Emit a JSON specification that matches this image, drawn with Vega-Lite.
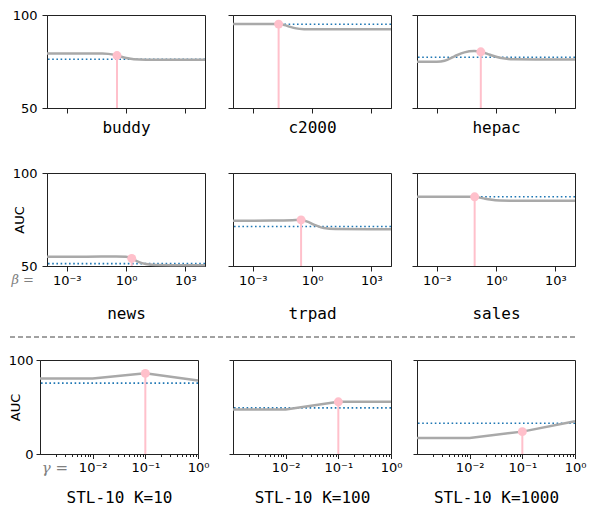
{
  "$schema": "https://vega.github.io/schema/vega-lite/v6.json",
  "padding": {"left": 7, "top": 8, "right": 4, "bottom": 0},
  "background": "white",
  "bounds": "full",
  "spacing": 14,
  "datasets": {
    "curves": [
      {"p": "buddy", "x": 0.0001, "auc": 79.3}, {"p": "buddy", "x": 0.001, "auc": 79.3}, {"p": "buddy", "x": 0.01, "auc": 79.3}, {"p": "buddy", "x": 0.063, "auc": 79.3}, {"p": "buddy", "x": 0.126, "auc": 79.1}, {"p": "buddy", "x": 0.35, "auc": 78.2}, {"p": "buddy", "x": 1, "auc": 76.9}, {"p": "buddy", "x": 2.5, "auc": 76.2}, {"p": "buddy", "x": 10, "auc": 76.0}, {"p": "buddy", "x": 100, "auc": 76.0}, {"p": "buddy", "x": 1000, "auc": 76.0}, {"p": "buddy", "x": 10000, "auc": 76.0},
      {"p": "c2000", "x": 0.0001, "auc": 95.2}, {"p": "c2000", "x": 0.001, "auc": 95.2}, {"p": "c2000", "x": 0.01, "auc": 95.15}, {"p": "c2000", "x": 0.0204, "auc": 95.1}, {"p": "c2000", "x": 0.04, "auc": 94.6}, {"p": "c2000", "x": 0.079, "auc": 93.6}, {"p": "c2000", "x": 0.158, "auc": 92.8}, {"p": "c2000", "x": 0.4, "auc": 92.4}, {"p": "c2000", "x": 1, "auc": 92.3}, {"p": "c2000", "x": 10, "auc": 92.3}, {"p": "c2000", "x": 1000, "auc": 92.3}, {"p": "c2000", "x": 10000, "auc": 92.3},
      {"p": "hepac", "x": 0.0001, "auc": 74.8}, {"p": "hepac", "x": 0.001, "auc": 74.9}, {"p": "hepac", "x": 0.0025, "auc": 75.4}, {"p": "hepac", "x": 0.0079, "auc": 77.8}, {"p": "hepac", "x": 0.025, "auc": 79.9}, {"p": "hepac", "x": 0.079, "auc": 80.6}, {"p": "hepac", "x": 0.17, "auc": 80.2}, {"p": "hepac", "x": 0.5, "auc": 78.6}, {"p": "hepac", "x": 1.58, "auc": 77.0}, {"p": "hepac", "x": 7.9, "auc": 76.2}, {"p": "hepac", "x": 100, "auc": 76.1}, {"p": "hepac", "x": 10000, "auc": 76.1},
      {"p": "news", "x": 0.0001, "auc": 55.0}, {"p": "news", "x": 0.01, "auc": 55.0}, {"p": "news", "x": 0.316, "auc": 55.1}, {"p": "news", "x": 1, "auc": 55.0}, {"p": "news", "x": 1.95, "auc": 54.1}, {"p": "news", "x": 4, "auc": 52.4}, {"p": "news", "x": 10, "auc": 51.1}, {"p": "news", "x": 31.6, "auc": 50.6}, {"p": "news", "x": 1000, "auc": 50.4}, {"p": "news", "x": 10000, "auc": 50.4},
      {"p": "trpad", "x": 0.0001, "auc": 74.3}, {"p": "trpad", "x": 0.01, "auc": 74.4}, {"p": "trpad", "x": 0.1, "auc": 74.6}, {"p": "trpad", "x": 0.28, "auc": 74.8}, {"p": "trpad", "x": 0.63, "auc": 73.7}, {"p": "trpad", "x": 1.58, "auc": 71.8}, {"p": "trpad", "x": 4, "auc": 70.4}, {"p": "trpad", "x": 15.8, "auc": 69.9}, {"p": "trpad", "x": 1000, "auc": 69.8}, {"p": "trpad", "x": 10000, "auc": 69.8},
      {"p": "sales", "x": 0.0001, "auc": 87.2}, {"p": "sales", "x": 0.01, "auc": 87.2}, {"p": "sales", "x": 0.083, "auc": 87.2}, {"p": "sales", "x": 0.2, "auc": 86.5}, {"p": "sales", "x": 0.5, "auc": 85.7}, {"p": "sales", "x": 1.58, "auc": 85.2}, {"p": "sales", "x": 10, "auc": 85.1}, {"p": "sales", "x": 10000, "auc": 85.1},
      {"p": "K10", "x": 0.001, "auc": 80.4}, {"p": "K10", "x": 0.01, "auc": 80.4}, {"p": "K10", "x": 0.1, "auc": 85.8}, {"p": "K10", "x": 1, "auc": 78.3},
      {"p": "K100", "x": 0.001, "auc": 47.3}, {"p": "K100", "x": 0.01, "auc": 47.3}, {"p": "K100", "x": 0.1, "auc": 55.5}, {"p": "K100", "x": 1, "auc": 55.5},
      {"p": "K1000", "x": 0.001, "auc": 17.1}, {"p": "K1000", "x": 0.01, "auc": 17.1}, {"p": "K1000", "x": 0.1, "auc": 23.8}, {"p": "K1000", "x": 1, "auc": 34.9}
    ],
    "best": [
      {"p": "buddy", "x": 0.35, "auc": 78.2}, {"p": "c2000", "x": 0.0204, "auc": 95.1}, {"p": "hepac", "x": 0.17, "auc": 80.2},
      {"p": "news", "x": 1.95, "auc": 54.1}, {"p": "trpad", "x": 0.28, "auc": 74.8}, {"p": "sales", "x": 0.083, "auc": 87.2},
      {"p": "K10", "x": 0.1, "auc": 85.8}, {"p": "K100", "x": 0.1, "auc": 55.5}, {"p": "K1000", "x": 0.1, "auc": 23.8}
    ],
    "base": [
      {"p": "buddy", "auc": 76.2}, {"p": "c2000", "auc": 95.0}, {"p": "hepac", "auc": 77.3},
      {"p": "news", "auc": 51.3}, {"p": "trpad", "auc": 71.2}, {"p": "sales", "auc": 87.2},
      {"p": "K10", "auc": 75.4}, {"p": "K100", "auc": 49.1}, {"p": "K1000", "auc": 32.7}
    ],
    "prefix": [
      {"p": "news", "x": 0.000022, "t": "β ="},
      {"p": "K10", "x": 0.0034, "t": "γ ="}
    ]
  },
  "vconcat": [
    {
      "bounds": "flush",
      "spacing": 0,
      "hconcat": [
        {"width": 38, "height": 1, "view": {"stroke": null}, "data": {"values": [{}]}, "mark": {"type": "point", "opacity": 0}, "encoding": {}},
        {
          "bounds": "full",
          "spacing": 30,
          "vconcat": [
            {
              "bounds": "flush",
              "spacing": 28,
              "hconcat": [
                {"width": 158, "height": 93, "layer": [
                  {"data": {"name": "base"}, "transform": [{"filter": "datum.p == 'buddy'"}], "mark": {"type": "rule", "color": "#1f77b4", "strokeWidth": 1.6, "strokeDash": [1.6, 2.6]}, "encoding": {"y": {"field": "auc", "type": "quantitative", "scale": {"domain": [50, 100]}}}},
                  {"data": {"name": "curves"}, "transform": [{"filter": "datum.p == 'buddy'"}], "mark": {"type": "line", "color": "#a9a9a9", "strokeWidth": 2.5, "interpolate": "monotone"}, "encoding": {
                    "x": {"field": "x", "type": "quantitative", "scale": {"type": "log", "domain": [0.0001, 10000]}, "axis": {"values": [0.001, 1, 1000], "labels": false, "title": "buddy", "titlePadding": 6}},
                    "y": {"field": "auc", "type": "quantitative", "scale": {"domain": [50, 100]}, "axis": {"values": [50, 100], "title": null}}}},
                  {"data": {"name": "best"}, "transform": [{"filter": "datum.p == 'buddy'"}], "mark": {"type": "rule", "color": "#ffc0cb", "strokeWidth": 2}, "encoding": {"x": {"field": "x", "type": "quantitative", "scale": {"type": "log", "domain": [0.0001, 10000]}}, "y": {"field": "auc", "type": "quantitative", "scale": {"domain": [50, 100]}}, "y2": {"datum": 50}}},
                  {"data": {"name": "best"}, "transform": [{"filter": "datum.p == 'buddy'"}], "mark": {"type": "circle", "color": "#ffc0cb", "size": 80, "opacity": 1}, "encoding": {"x": {"field": "x", "type": "quantitative", "scale": {"type": "log", "domain": [0.0001, 10000]}}, "y": {"field": "auc", "type": "quantitative", "scale": {"domain": [50, 100]}}}}
                ]},
                {
                  "bounds": "flush",
                  "spacing": 26,
                  "hconcat": [
                    {"width": 158, "height": 93, "layer": [
                      {"data": {"name": "base"}, "transform": [{"filter": "datum.p == 'c2000'"}], "mark": {"type": "rule", "color": "#1f77b4", "strokeWidth": 1.6, "strokeDash": [1.6, 2.6]}, "encoding": {"y": {"field": "auc", "type": "quantitative", "scale": {"domain": [50, 100]}}}},
                      {"data": {"name": "curves"}, "transform": [{"filter": "datum.p == 'c2000'"}], "mark": {"type": "line", "color": "#a9a9a9", "strokeWidth": 2.5, "interpolate": "monotone"}, "encoding": {
                        "x": {"field": "x", "type": "quantitative", "scale": {"type": "log", "domain": [0.0001, 10000]}, "axis": {"values": [0.001, 1, 1000], "labels": false, "title": "c2000", "titlePadding": 6}},
                        "y": {"field": "auc", "type": "quantitative", "scale": {"domain": [50, 100]}, "axis": {"values": [50, 100], "labels": false, "title": null}}}},
                      {"data": {"name": "best"}, "transform": [{"filter": "datum.p == 'c2000'"}], "mark": {"type": "rule", "color": "#ffc0cb", "strokeWidth": 2}, "encoding": {"x": {"field": "x", "type": "quantitative", "scale": {"type": "log", "domain": [0.0001, 10000]}}, "y": {"field": "auc", "type": "quantitative", "scale": {"domain": [50, 100]}}, "y2": {"datum": 50}}},
                      {"data": {"name": "best"}, "transform": [{"filter": "datum.p == 'c2000'"}], "mark": {"type": "circle", "color": "#ffc0cb", "size": 80, "opacity": 1}, "encoding": {"x": {"field": "x", "type": "quantitative", "scale": {"type": "log", "domain": [0.0001, 10000]}}, "y": {"field": "auc", "type": "quantitative", "scale": {"domain": [50, 100]}}}}
                    ]},
                    {"width": 158, "height": 93, "layer": [
                      {"data": {"name": "base"}, "transform": [{"filter": "datum.p == 'hepac'"}], "mark": {"type": "rule", "color": "#1f77b4", "strokeWidth": 1.6, "strokeDash": [1.6, 2.6]}, "encoding": {"y": {"field": "auc", "type": "quantitative", "scale": {"domain": [50, 100]}}}},
                      {"data": {"name": "curves"}, "transform": [{"filter": "datum.p == 'hepac'"}], "mark": {"type": "line", "color": "#a9a9a9", "strokeWidth": 2.5, "interpolate": "monotone"}, "encoding": {
                        "x": {"field": "x", "type": "quantitative", "scale": {"type": "log", "domain": [0.0001, 10000]}, "axis": {"values": [0.001, 1, 1000], "labels": false, "title": "hepac", "titlePadding": 6}},
                        "y": {"field": "auc", "type": "quantitative", "scale": {"domain": [50, 100]}, "axis": {"values": [50, 100], "labels": false, "title": null}}}},
                      {"data": {"name": "best"}, "transform": [{"filter": "datum.p == 'hepac'"}], "mark": {"type": "rule", "color": "#ffc0cb", "strokeWidth": 2}, "encoding": {"x": {"field": "x", "type": "quantitative", "scale": {"type": "log", "domain": [0.0001, 10000]}}, "y": {"field": "auc", "type": "quantitative", "scale": {"domain": [50, 100]}}, "y2": {"datum": 50}}},
                      {"data": {"name": "best"}, "transform": [{"filter": "datum.p == 'hepac'"}], "mark": {"type": "circle", "color": "#ffc0cb", "size": 80, "opacity": 1}, "encoding": {"x": {"field": "x", "type": "quantitative", "scale": {"type": "log", "domain": [0.0001, 10000]}}, "y": {"field": "auc", "type": "quantitative", "scale": {"domain": [50, 100]}}}}
                    ]}
                  ]
                }
              ]
            },
            {
              "bounds": "flush",
              "spacing": 28,
              "hconcat": [
                {"width": 158, "height": 93, "layer": [
                  {"data": {"name": "base"}, "transform": [{"filter": "datum.p == 'news'"}], "mark": {"type": "rule", "color": "#1f77b4", "strokeWidth": 1.6, "strokeDash": [1.6, 2.6]}, "encoding": {"y": {"field": "auc", "type": "quantitative", "scale": {"domain": [50, 100]}}}},
                  {"data": {"name": "curves"}, "transform": [{"filter": "datum.p == 'news'"}], "mark": {"type": "line", "color": "#a9a9a9", "strokeWidth": 2.5, "interpolate": "monotone"}, "encoding": {
                    "x": {"field": "x", "type": "quantitative", "scale": {"type": "log", "domain": [0.0001, 10000]}, "axis": {"values": [0.001, 1, 1000], "labelExpr": "datum.value < 0.01 ? '10⁻³' : datum.value < 10 ? '10⁰' : '10³'", "title": "news", "titlePadding": 18}},
                    "y": {"field": "auc", "type": "quantitative", "scale": {"domain": [50, 100]}, "axis": {"values": [50, 100], "title": "AUC", "titleFont": "DejaVu Sans", "titleFontSize": 13, "titlePadding": -14}}}},
                  {"data": {"name": "best"}, "transform": [{"filter": "datum.p == 'news'"}], "mark": {"type": "rule", "color": "#ffc0cb", "strokeWidth": 2}, "encoding": {"x": {"field": "x", "type": "quantitative", "scale": {"type": "log", "domain": [0.0001, 10000]}}, "y": {"field": "auc", "type": "quantitative", "scale": {"domain": [50, 100]}}, "y2": {"datum": 50}}},
                  {"data": {"name": "best"}, "transform": [{"filter": "datum.p == 'news'"}], "mark": {"type": "circle", "color": "#ffc0cb", "size": 80, "opacity": 1}, "encoding": {"x": {"field": "x", "type": "quantitative", "scale": {"type": "log", "domain": [0.0001, 10000]}}, "y": {"field": "auc", "type": "quantitative", "scale": {"domain": [50, 100]}}}},
                  {"data": {"name": "prefix"}, "transform": [{"filter": "datum.p == 'news'"}], "mark": {"type": "text", "align": "right", "baseline": "top", "dy": 8, "font": "DejaVu Serif", "fontStyle": "italic", "fontSize": 13, "color": "#808080"}, "encoding": {"x": {"field": "x", "type": "quantitative", "scale": {"type": "log", "domain": [0.0001, 10000]}}, "y": {"datum": 50, "type": "quantitative"}, "text": {"field": "t", "type": "nominal"}}}
                ]},
                {
                  "bounds": "flush",
                  "spacing": 26,
                  "hconcat": [
                    {"width": 158, "height": 93, "layer": [
                      {"data": {"name": "base"}, "transform": [{"filter": "datum.p == 'trpad'"}], "mark": {"type": "rule", "color": "#1f77b4", "strokeWidth": 1.6, "strokeDash": [1.6, 2.6]}, "encoding": {"y": {"field": "auc", "type": "quantitative", "scale": {"domain": [50, 100]}}}},
                      {"data": {"name": "curves"}, "transform": [{"filter": "datum.p == 'trpad'"}], "mark": {"type": "line", "color": "#a9a9a9", "strokeWidth": 2.5, "interpolate": "monotone"}, "encoding": {
                        "x": {"field": "x", "type": "quantitative", "scale": {"type": "log", "domain": [0.0001, 10000]}, "axis": {"values": [0.001, 1, 1000], "labelExpr": "datum.value < 0.01 ? '10⁻³' : datum.value < 10 ? '10⁰' : '10³'", "title": "trpad", "titlePadding": 18}},
                        "y": {"field": "auc", "type": "quantitative", "scale": {"domain": [50, 100]}, "axis": {"values": [50, 100], "labels": false, "title": null}}}},
                      {"data": {"name": "best"}, "transform": [{"filter": "datum.p == 'trpad'"}], "mark": {"type": "rule", "color": "#ffc0cb", "strokeWidth": 2}, "encoding": {"x": {"field": "x", "type": "quantitative", "scale": {"type": "log", "domain": [0.0001, 10000]}}, "y": {"field": "auc", "type": "quantitative", "scale": {"domain": [50, 100]}}, "y2": {"datum": 50}}},
                      {"data": {"name": "best"}, "transform": [{"filter": "datum.p == 'trpad'"}], "mark": {"type": "circle", "color": "#ffc0cb", "size": 80, "opacity": 1}, "encoding": {"x": {"field": "x", "type": "quantitative", "scale": {"type": "log", "domain": [0.0001, 10000]}}, "y": {"field": "auc", "type": "quantitative", "scale": {"domain": [50, 100]}}}}
                    ]},
                    {"width": 158, "height": 93, "layer": [
                      {"data": {"name": "base"}, "transform": [{"filter": "datum.p == 'sales'"}], "mark": {"type": "rule", "color": "#1f77b4", "strokeWidth": 1.6, "strokeDash": [1.6, 2.6]}, "encoding": {"y": {"field": "auc", "type": "quantitative", "scale": {"domain": [50, 100]}}}},
                      {"data": {"name": "curves"}, "transform": [{"filter": "datum.p == 'sales'"}], "mark": {"type": "line", "color": "#a9a9a9", "strokeWidth": 2.5, "interpolate": "monotone"}, "encoding": {
                        "x": {"field": "x", "type": "quantitative", "scale": {"type": "log", "domain": [0.0001, 10000]}, "axis": {"values": [0.001, 1, 1000], "labelExpr": "datum.value < 0.01 ? '10⁻³' : datum.value < 10 ? '10⁰' : '10³'", "title": "sales", "titlePadding": 18}},
                        "y": {"field": "auc", "type": "quantitative", "scale": {"domain": [50, 100]}, "axis": {"values": [50, 100], "labels": false, "title": null}}}},
                      {"data": {"name": "best"}, "transform": [{"filter": "datum.p == 'sales'"}], "mark": {"type": "rule", "color": "#ffc0cb", "strokeWidth": 2}, "encoding": {"x": {"field": "x", "type": "quantitative", "scale": {"type": "log", "domain": [0.0001, 10000]}}, "y": {"field": "auc", "type": "quantitative", "scale": {"domain": [50, 100]}}, "y2": {"datum": 50}}},
                      {"data": {"name": "best"}, "transform": [{"filter": "datum.p == 'sales'"}], "mark": {"type": "circle", "color": "#ffc0cb", "size": 80, "opacity": 1}, "encoding": {"x": {"field": "x", "type": "quantitative", "scale": {"type": "log", "domain": [0.0001, 10000]}}, "y": {"field": "auc", "type": "quantitative", "scale": {"domain": [50, 100]}}}}
                    ]}
                  ]
                }
              ]
            }
          ]
        }
      ]
    },
    {
      "bounds": "full",
      "spacing": 15,
      "vconcat": [
        {"width": 566, "height": 1, "view": {"stroke": null}, "data": {"values": [{}]}, "mark": {"type": "rule", "strokeDash": [5, 3], "color": "#444444", "strokeWidth": 1}, "encoding": {
          "y": {"datum": 0, "type": "quantitative", "axis": null}}},
        {
          "bounds": "flush",
          "spacing": 0,
          "hconcat": [
            {"width": 31, "height": 1, "view": {"stroke": null}, "data": {"values": [{}]}, "mark": {"type": "point", "opacity": 0}, "encoding": {}},
            {
              "bounds": "flush",
              "spacing": 35,
              "hconcat": [
                {"width": 158, "height": 94, "layer": [
                  {"data": {"name": "base"}, "transform": [{"filter": "datum.p == 'K10'"}], "mark": {"type": "rule", "color": "#1f77b4", "strokeWidth": 1.6, "strokeDash": [1.6, 2.6]}, "encoding": {"y": {"field": "auc", "type": "quantitative", "scale": {"domain": [0, 100]}}}},
                  {"data": {"name": "curves"}, "transform": [{"filter": "datum.p == 'K10'"}], "mark": {"type": "line", "color": "#a9a9a9", "strokeWidth": 2.5}, "encoding": {
                    "x": {"field": "x", "type": "quantitative", "scale": {"type": "log", "domain": [0.001, 1]}, "axis": {"values": [0.002, 0.003, 0.004, 0.005, 0.006, 0.007, 0.008, 0.009, 0.01, 0.02, 0.03, 0.04, 0.05, 0.06, 0.07, 0.08, 0.09, 0.1, 0.2, 0.3, 0.4, 0.5, 0.6, 0.7, 0.8, 0.9, 1], "labelExpr": "datum.value == 0.01 ? '10⁻²' : datum.value == 0.1 ? '10⁻¹' : datum.value == 1 ? '10⁰' : ''", "tickSize": {"condition": {"test": "datum.value == 0.01 || datum.value == 0.1 || datum.value == 1", "value": 4.5}, "value": 2.5}, "title": "STL-10 K=10", "titlePadding": 15}},
                    "y": {"field": "auc", "type": "quantitative", "scale": {"domain": [0, 100]}, "axis": {"values": [0, 100], "tickSize": 4, "labelPadding": 3, "title": "AUC", "titleFont": "DejaVu Sans", "titleFontSize": 13, "titlePadding": -14}}}},
                  {"data": {"name": "best"}, "transform": [{"filter": "datum.p == 'K10'"}], "mark": {"type": "rule", "color": "#ffc0cb", "strokeWidth": 2}, "encoding": {"x": {"field": "x", "type": "quantitative", "scale": {"type": "log", "domain": [0.001, 1]}}, "y": {"field": "auc", "type": "quantitative", "scale": {"domain": [0, 100]}}, "y2": {"datum": 0}}},
                  {"data": {"name": "best"}, "transform": [{"filter": "datum.p == 'K10'"}], "mark": {"type": "circle", "color": "#ffc0cb", "size": 80, "opacity": 1}, "encoding": {"x": {"field": "x", "type": "quantitative", "scale": {"type": "log", "domain": [0.001, 1]}}, "y": {"field": "auc", "type": "quantitative", "scale": {"domain": [0, 100]}}}},
                  {"data": {"name": "prefix"}, "transform": [{"filter": "datum.p == 'K10'"}], "mark": {"type": "text", "align": "right", "baseline": "top", "dy": 7, "font": "DejaVu Serif", "fontStyle": "italic", "fontSize": 15, "color": "#808080"}, "encoding": {"x": {"field": "x", "type": "quantitative", "scale": {"type": "log", "domain": [0.001, 1]}}, "y": {"datum": 0, "type": "quantitative"}, "text": {"field": "t", "type": "nominal"}}}
                ]},
                {
                  "bounds": "flush",
                  "spacing": 26,
                  "hconcat": [
                    {"width": 158, "height": 94, "layer": [
                      {"data": {"name": "base"}, "transform": [{"filter": "datum.p == 'K100'"}], "mark": {"type": "rule", "color": "#1f77b4", "strokeWidth": 1.6, "strokeDash": [1.6, 2.6]}, "encoding": {"y": {"field": "auc", "type": "quantitative", "scale": {"domain": [0, 100]}}}},
                      {"data": {"name": "curves"}, "transform": [{"filter": "datum.p == 'K100'"}], "mark": {"type": "line", "color": "#a9a9a9", "strokeWidth": 2.5}, "encoding": {
                        "x": {"field": "x", "type": "quantitative", "scale": {"type": "log", "domain": [0.001, 1]}, "axis": {"values": [0.002, 0.003, 0.004, 0.005, 0.006, 0.007, 0.008, 0.009, 0.01, 0.02, 0.03, 0.04, 0.05, 0.06, 0.07, 0.08, 0.09, 0.1, 0.2, 0.3, 0.4, 0.5, 0.6, 0.7, 0.8, 0.9, 1], "labelExpr": "datum.value == 0.01 ? '10⁻²' : datum.value == 0.1 ? '10⁻¹' : datum.value == 1 ? '10⁰' : ''", "tickSize": {"condition": {"test": "datum.value == 0.01 || datum.value == 0.1 || datum.value == 1", "value": 4.5}, "value": 2.5}, "title": "STL-10 K=100", "titlePadding": 15}},
                        "y": {"field": "auc", "type": "quantitative", "scale": {"domain": [0, 100]}, "axis": {"values": [0, 100], "tickSize": 4, "labels": false, "title": null}}}},
                      {"data": {"name": "best"}, "transform": [{"filter": "datum.p == 'K100'"}], "mark": {"type": "rule", "color": "#ffc0cb", "strokeWidth": 2}, "encoding": {"x": {"field": "x", "type": "quantitative", "scale": {"type": "log", "domain": [0.001, 1]}}, "y": {"field": "auc", "type": "quantitative", "scale": {"domain": [0, 100]}}, "y2": {"datum": 0}}},
                      {"data": {"name": "best"}, "transform": [{"filter": "datum.p == 'K100'"}], "mark": {"type": "circle", "color": "#ffc0cb", "size": 80, "opacity": 1}, "encoding": {"x": {"field": "x", "type": "quantitative", "scale": {"type": "log", "domain": [0.001, 1]}}, "y": {"field": "auc", "type": "quantitative", "scale": {"domain": [0, 100]}}}}
                    ]},
                    {"width": 158, "height": 94, "layer": [
                      {"data": {"name": "base"}, "transform": [{"filter": "datum.p == 'K1000'"}], "mark": {"type": "rule", "color": "#1f77b4", "strokeWidth": 1.6, "strokeDash": [1.6, 2.6]}, "encoding": {"y": {"field": "auc", "type": "quantitative", "scale": {"domain": [0, 100]}}}},
                      {"data": {"name": "curves"}, "transform": [{"filter": "datum.p == 'K1000'"}], "mark": {"type": "line", "color": "#a9a9a9", "strokeWidth": 2.5}, "encoding": {
                        "x": {"field": "x", "type": "quantitative", "scale": {"type": "log", "domain": [0.001, 1]}, "axis": {"values": [0.002, 0.003, 0.004, 0.005, 0.006, 0.007, 0.008, 0.009, 0.01, 0.02, 0.03, 0.04, 0.05, 0.06, 0.07, 0.08, 0.09, 0.1, 0.2, 0.3, 0.4, 0.5, 0.6, 0.7, 0.8, 0.9, 1], "labelExpr": "datum.value == 0.01 ? '10⁻²' : datum.value == 0.1 ? '10⁻¹' : datum.value == 1 ? '10⁰' : ''", "tickSize": {"condition": {"test": "datum.value == 0.01 || datum.value == 0.1 || datum.value == 1", "value": 4.5}, "value": 2.5}, "title": "STL-10 K=1000", "titlePadding": 15}},
                        "y": {"field": "auc", "type": "quantitative", "scale": {"domain": [0, 100]}, "axis": {"values": [0, 100], "tickSize": 4, "labels": false, "title": null}}}},
                      {"data": {"name": "best"}, "transform": [{"filter": "datum.p == 'K1000'"}], "mark": {"type": "rule", "color": "#ffc0cb", "strokeWidth": 2}, "encoding": {"x": {"field": "x", "type": "quantitative", "scale": {"type": "log", "domain": [0.001, 1]}}, "y": {"field": "auc", "type": "quantitative", "scale": {"domain": [0, 100]}}, "y2": {"datum": 0}}},
                      {"data": {"name": "best"}, "transform": [{"filter": "datum.p == 'K1000'"}], "mark": {"type": "circle", "color": "#ffc0cb", "size": 80, "opacity": 1}, "encoding": {"x": {"field": "x", "type": "quantitative", "scale": {"type": "log", "domain": [0.001, 1]}}, "y": {"field": "auc", "type": "quantitative", "scale": {"domain": [0, 100]}}}}
                    ]}
                  ]
                }
              ]
            }
          ]
        }
      ]
    }
  ],
  "config": {
    "view": {"stroke": "#222222", "strokeWidth": 1},
    "axis": {
      "grid": false,
      "domainColor": "#222222",
      "domainWidth": 1,
      "tickColor": "#222222",
      "tickSize": 5,
      "labelFont": "DejaVu Sans",
      "labelFontSize": 13,
      "labelColor": "#000000",
      "labelPadding": 3,
      "labelFlush": false,
      "labelOverlap": false,
      "titleFont": "DejaVu Sans Mono",
      "titleFontSize": 16,
      "titleFontWeight": "normal",
      "titleColor": "#000000"
    },
    "axisY": {"labelPadding": 5}
  }
}
